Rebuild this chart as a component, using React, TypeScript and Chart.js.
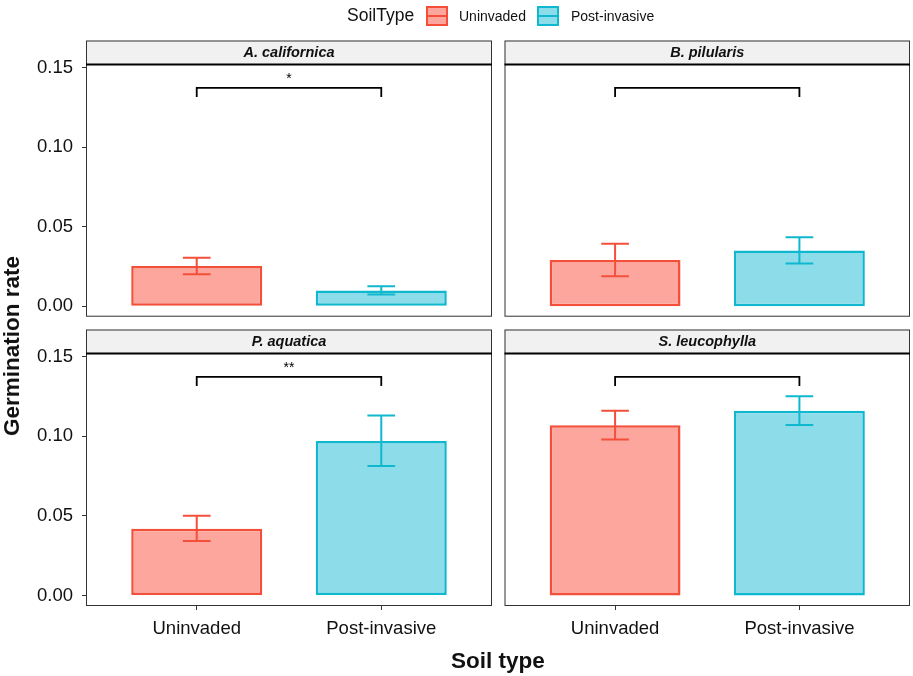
import React, { useEffect, useRef } from "react";
import { Chart, registerables } from "chart.js";

Chart.register(...registerables);

// ---------- data ----------
const panelNames = ["A. californica", "B. pilularis", "P. aquatica", "S. leucophylla"];
const soilTypes = ["Uninvaded", "Post-invasive"];
const soilPositions = [1, 2];
const meanUninvaded = [0.0253, 0.0291, 0.0419, 0.1068];
const meanPostInvasive = [0.0099, 0.0350, 0.0970, 0.1160];
const lowUninvaded = [0.0201, 0.0188, 0.0342, 0.0980];
const highUninvaded = [0.0304, 0.0392, 0.0501, 0.1160];
const lowPostInvasive = [0.0074, 0.0269, 0.0813, 0.1070];
const highPostInvasive = [0.0126, 0.0434, 0.1130, 0.1250];
const sigLabels = ["*", "", "**", ""];
const bracketValue = 0.1372;
const bracketTickValue = 0.1315;
const yTickValues = [0, 0.05, 0.1, 0.15];
const yTickLabels = ["0.00", "0.05", "0.10", "0.15"];

// ---------- styles ----------
const FONT = '"Liberation Sans", Arial, Helvetica, sans-serif';
const fills = ["#FCA69E", "#8CDDE9"];
const borders = ["#F34F3A", "#0FB8CE"];
const W = 913;
const H = 676;

type Geo = { left: number; right: number; top: number; bottom: number; showY: boolean; showX: boolean };
const geos: Geo[] = [
  { left: 86, right: 492, top: 65, bottom: 316.7, showY: true, showX: false },
  { left: 504.5, right: 910, top: 65, bottom: 316.7, showY: false, showX: false },
  { left: 86, right: 492, top: 354, bottom: 606, showY: true, showX: true },
  { left: 504.5, right: 910, top: 354, bottom: 606, showY: false, showX: true },
];
const Y_AXIS_W = 70;
const X_AXIS_H = 40;
const STRIP_H = 24.5;

function Panel({ index }: { index: number }) {
  const ref = useRef<HTMLCanvasElement | null>(null);
  useEffect(() => {
    if (!ref.current) return;
    const g = geos[index];
    const means = [meanUninvaded[index], meanPostInvasive[index]];
    const lows = [lowUninvaded[index], lowPostInvasive[index]];
    const highs = [highUninvaded[index], highPostInvasive[index]];

    const facetPlugin = {
      id: "facet" + index,
      afterDatasetsDraw(chart: any) {
        const { ctx, scales } = chart;
        const x = scales.x;
        const y = scales.y;
        ctx.save();
        // error bars
        for (let i = 0; i < soilPositions.length; i++) {
          const px = x.getPixelForValue(soilPositions[i]);
          const hw = x.getPixelForValue(soilPositions[i] + 0.075) - px;
          const yl = y.getPixelForValue(lows[i]);
          const yh = y.getPixelForValue(highs[i]);
          ctx.strokeStyle = borders[i];
          ctx.lineWidth = 2;
          ctx.beginPath();
          ctx.moveTo(px, yl);
          ctx.lineTo(px, yh);
          ctx.moveTo(px - hw, yl);
          ctx.lineTo(px + hw, yl);
          ctx.moveTo(px - hw, yh);
          ctx.lineTo(px + hw, yh);
          ctx.stroke();
        }
        // significance bracket
        const bx1 = x.getPixelForValue(soilPositions[0]);
        const bx2 = x.getPixelForValue(soilPositions[1]);
        const by = y.getPixelForValue(bracketValue);
        const bt = y.getPixelForValue(bracketTickValue);
        ctx.strokeStyle = "#000";
        ctx.lineWidth = 1.8;
        ctx.beginPath();
        ctx.moveTo(bx1, bt);
        ctx.lineTo(bx1, by);
        ctx.lineTo(bx2, by);
        ctx.lineTo(bx2, bt);
        ctx.stroke();
        if (sigLabels[index]) {
          ctx.fillStyle = "#000";
          ctx.font = `14px ${FONT}`;
          ctx.textAlign = "center";
          ctx.textBaseline = "alphabetic";
          ctx.fillText(sigLabels[index], (bx1 + bx2) / 2, by - 4.5);
        }
        ctx.restore();
      },
      afterDraw(chart: any) {
        const { ctx, chartArea } = chart;
        const { left, right, top, bottom } = chartArea;
        ctx.save();
        // strip
        ctx.fillStyle = "#F1F1F1";
        ctx.fillRect(left, top - STRIP_H, right - left, STRIP_H);
        ctx.strokeStyle = "#333";
        ctx.lineWidth = 1;
        ctx.strokeRect(left + 0.5, top - STRIP_H + 0.5, right - left - 1, bottom - top + STRIP_H - 1);
        ctx.strokeStyle = "#000";
        ctx.lineWidth = 2;
        ctx.beginPath();
        ctx.moveTo(left, top - 0.5);
        ctx.lineTo(right, top - 0.5);
        ctx.stroke();
        ctx.fillStyle = "#111";
        ctx.font = `italic bold 14.5px ${FONT}`;
        ctx.textAlign = "center";
        ctx.textBaseline = "middle";
        ctx.fillText(panelNames[index], (left + right) / 2, top - STRIP_H / 2 + 0.5);
        ctx.restore();
      },
    };

    const padLeft = g.showY ? g.left - Y_AXIS_W : g.left;
    const padBottom = g.showX ? H - g.bottom - X_AXIS_H : H - g.bottom;

    const chart = new Chart(ref.current, {
      type: "bar",
      data: {
        datasets: [
          {
            data: soilPositions.map((p, i) => ({ x: p, y: means[i] })),
            backgroundColor: fills,
            borderColor: borders,
            borderWidth: 2.5,
            borderSkipped: false,
            barPercentage: 0.71,
            categoryPercentage: 1,
          } as any,
        ],
      },
      options: {
        animation: false,
        responsive: false,
        maintainAspectRatio: false,
        events: [],
        layout: { padding: { left: padLeft, right: W - g.right, top: g.top, bottom: padBottom } },
        plugins: { legend: { display: false }, tooltip: { enabled: false }, title: { display: false } },
        scales: {
          x: {
            type: "linear",
            min: 0.4,
            max: 2.6,
            offset: false,
            display: g.showX,
            afterBuildTicks: (s: any) => {
              s.ticks = soilPositions.map((v) => ({ value: v }));
            },
            afterFit: (s: any) => {
              if (g.showX) s.height = X_AXIS_H;
            },
            grid: { offset: false, drawOnChartArea: false, drawTicks: true, tickLength: 4, color: "#333", lineWidth: 1 },
            border: { display: false },
            ticks: {
              autoSkip: false,
              maxRotation: 0,
              padding: 8,
              color: "#111",
              font: { family: FONT, size: 18.5 },
              callback: (_v: any, i: number) => soilTypes[i],
            },
          },
          y: {
            type: "linear",
            min: -0.0066,
            max: 0.1516,
            bounds: "data",
            display: g.showY,
            afterBuildTicks: (s: any) => {
              s.ticks = yTickValues.map((v) => ({ value: v }));
            },
            afterFit: (s: any) => {
              if (g.showY) s.width = Y_AXIS_W;
            },
            grid: { offset: false, drawOnChartArea: false, drawTicks: true, tickLength: 4, color: "#333", lineWidth: 1 },
            border: { display: false },
            ticks: {
              padding: 9,
              color: "#111",
              font: { family: FONT, size: 18.5 },
              callback: (_v: any, i: number) => yTickLabels[i],
            },
          },
        },
      },
      plugins: [facetPlugin],
    });
    return () => chart.destroy();
  }, [index]);

  return (
    <canvas
      ref={ref}
      width={W}
      height={H}
      style={{ position: "absolute", left: 0, top: 0, width: W, height: H, pointerEvents: "none" }}
    />
  );
}

function LegendKey({ i, left }: { i: number; left: number }) {
  return (
    <div
      style={{
        position: "absolute",
        left,
        top: 6,
        width: 22,
        height: 20,
        boxSizing: "border-box",
        background: fills[i],
        border: `2.5px solid ${borders[i]}`,
      }}
    >
      <div style={{ position: "absolute", left: 0, right: 0, top: 6.5, height: 2, background: borders[i] }} />
    </div>
  );
}

export default function App() {
  const text = (style: React.CSSProperties, content: string) => (
    <div style={{ position: "absolute", fontFamily: FONT, color: "#111", whiteSpace: "nowrap", ...style }}>{content}</div>
  );
  return (
    <div style={{ position: "absolute", left: 0, top: 0, width: W, height: H, background: "#fff", overflow: "hidden" }}>
      {[0, 1, 2, 3].map((i) => (
        <Panel key={i} index={i} />
      ))}
      {/* legend */}
      {text({ left: 347, top: 4, fontSize: 17.5, lineHeight: "22px" }, "SoilType")}
      <LegendKey i={0} left={426} />
      {text({ left: 459, top: 6, fontSize: 14, lineHeight: "20px" }, soilTypes[0])}
      <LegendKey i={1} left={537} />
      {text({ left: 571, top: 6, fontSize: 14, lineHeight: "20px" }, soilTypes[1])}
      {/* axis titles */}
      {text(
        { left: 498, top: 648, transform: "translateX(-50%)", fontSize: 22.5, fontWeight: "bold", lineHeight: "26px" },
        "Soil type"
      )}
      {text(
        {
          left: 12,
          top: 346,
          transform: "translate(-50%, -50%) rotate(-90deg)",
          fontSize: 22.5,
          fontWeight: "bold",
          lineHeight: "26px",
        },
        "Germination rate"
      )}
    </div>
  );
}
